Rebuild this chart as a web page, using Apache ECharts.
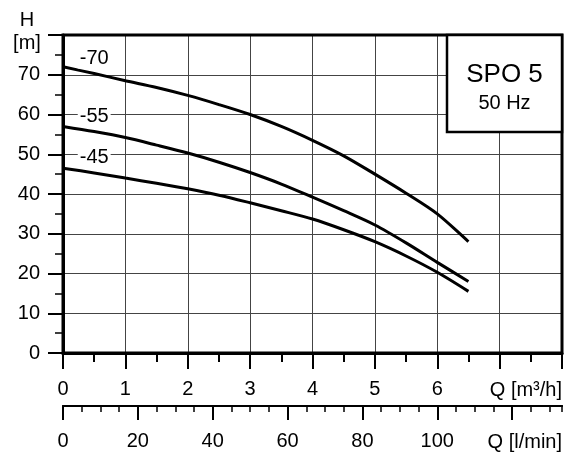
<!DOCTYPE html>
<html>
<head>
<meta charset="utf-8">
<script src="https://cdn.jsdelivr.net/npm/echarts@6/dist/echarts.min.js"></script>
<style>html,body{margin:0;padding:0;background:#fff}#c{width:571px;height:455px}</style>
</head>
<body>
<div id="c"></div>
<script>
// Flow in m3/h
const flow = [0, 0.5, 1, 1.5, 2, 2.5, 3, 3.5, 4, 4.5, 5, 5.5, 6, 6.5];
// Head in m for each impeller variant
const h70 = [72, 70.3, 68.5, 66.8, 64.8, 62.5, 60, 57, 53.5, 49.6, 45, 40.2, 35, 28];
const h55 = [57, 55.7, 54.2, 52.3, 50.3, 48, 45.4, 42.5, 39.2, 35.8, 32.2, 27.7, 22.8, 18];
const h45 = [46.5, 45.3, 44, 42.7, 41.3, 39.7, 37.8, 35.8, 33.7, 31, 28, 24.4, 20.3, 15.5];
const seriesNames = ['-70', '-55', '-45'];
const seriesData = [h70, h55, h45];
// Tick labels
const qM3hLabels = [0, 1, 2, 3, 4, 5, 6];
const qLminMajor = [0, 20, 40, 60, 80, 100, 120];
const qLminLabels = [0, 20, 40, 60, 80, 100];
const hLabels = [0, 10, 20, 30, 40, 50, 60, 70];
const title = 'SPO 5';
const subtitle = '50 Hz';

const FONT = 'Liberation Sans, Arial, sans-serif';
const qMax = 8;
const lminMax = qMax * 1000 / 60;

const chart = echarts.init(document.getElementById('c'), null, {renderer: 'canvas'});

const series = [];
seriesData.forEach((vals, i) => {
  series.push({
    name: seriesNames[i],
    type: 'line',
    xAxisIndex: 0,
    yAxisIndex: 0,
    smooth: 0.3,
    symbol: 'none',
    lineStyle: {color: '#000', width: 3},
    data: flow.map((q, j) => [q, vals[j]]),
    emphasis: {disabled: true},
    z: 3
  });
  series.push({
    name: seriesNames[i] + ' label',
    type: 'scatter',
    xAxisIndex: 0,
    yAxisIndex: 0,
    symbol: 'circle',
    symbolSize: 0,
    itemStyle: {color: '#000', opacity: 1},
    data: [[flow[1], vals[1]]],
    label: {
      show: true,
      position: 'top',
      distance: 5,
      formatter: () => seriesNames[i],
      fontFamily: FONT, fontSize: 20, color: '#000', opacity: 1,
      backgroundColor: '#fff', lineHeight: 20, padding: [0, 2]
    },
    emphasis: {disabled: true},
    silent: true,
    z: 5
  });
});

const option = {
  animation: false,
  backgroundColor: '#fff',
  grid: {left: 63, right: 9, top: 35, bottom: 102, show: true, borderColor: '#000', borderWidth: 3, backgroundColor: 'transparent', z: 4},
  xAxis: [
    {
      type: 'value', min: 0, max: qMax, interval: 1, position: 'bottom',
      axisLine: {show: true, onZero: false, lineStyle: {color: '#000', width: 3}},
      axisTick: {show: true, inside: false, length: 16, lineStyle: {color: '#000', width: 2}},
      minorTick: {show: true, splitNumber: 2, length: 9, lineStyle: {color: '#000', width: 2}},
      splitLine: {show: true, lineStyle: {color: '#444', width: 1}},
      axisLabel: {
        margin: 26, fontFamily: FONT, fontSize: 20, color: '#000',
        formatter: v => qM3hLabels.indexOf(v) >= 0 ? String(v) : ''
      }
    },
    {
      type: 'value', min: 0, max: lminMax, interval: 5, position: 'bottom', offset: 53,
      axisLine: {show: true, onZero: false, lineStyle: {color: '#000', width: 2}},
      axisTick: {show: true, inside: false, length: 6, lineStyle: {color: '#000', width: 1.5}},
      splitLine: {show: false},
      axisLabel: {margin: 25, fontFamily: FONT, fontSize: 20, color: '#000', customValues: qLminLabels}
    },
    {
      type: 'value', min: 0, max: lminMax, position: 'bottom', offset: 53,
      axisLine: {show: true, onZero: false, lineStyle: {color: '#000', width: 2}},
      axisTick: {show: true, inside: false, length: 14, customValues: qLminMajor, lineStyle: {color: '#000', width: 2}},
      splitLine: {show: false},
      axisLabel: {show: false}
    }
  ],
  yAxis: [{
    type: 'value', min: 0, max: 80, interval: 10,
    axisLine: {show: true, onZero: false, lineStyle: {color: '#000', width: 3}},
    axisTick: {show: true, inside: false, length: 15, lineStyle: {color: '#000', width: 2}},
    minorTick: {show: true, splitNumber: 2, length: 8, lineStyle: {color: '#000', width: 1.5}},
    splitLine: {show: true, lineStyle: {color: '#444', width: 1}},
    axisLabel: {
      margin: 23, fontFamily: FONT, fontSize: 20, color: '#000',
      formatter: v => hLabels.indexOf(v) >= 0 ? String(v) : ''
    }
  }],
  series: series,
  graphic: [
    {type: 'rect', shape: {x: 447, y: 35, width: 115, height: 97}, style: {fill: '#fff', stroke: '#000', lineWidth: 2.5}, z: 100},
    {type: 'text', x: 504.5, y: 75, style: {text: title, font: '26px ' + FONT, fill: '#000', align: 'center', verticalAlign: 'middle'}, z: 101},
    {type: 'text', x: 504.5, y: 103, style: {text: subtitle, font: '20px ' + FONT, fill: '#000', align: 'center', verticalAlign: 'middle'}, z: 101},
    {type: 'text', x: 27, y: 20, style: {text: 'H', font: '20px ' + FONT, fill: '#000', align: 'center', verticalAlign: 'middle'}, z: 101},
    {type: 'text', x: 27, y: 43, style: {text: '[m]', font: '20px ' + FONT, fill: '#000', align: 'center', verticalAlign: 'middle'}, z: 101},
    {type: 'text', x: 562, y: 390, style: {text: 'Q [m³/h]', font: '20px ' + FONT, fill: '#000', align: 'right', verticalAlign: 'middle'}, z: 101},
    {type: 'text', x: 562, y: 442, style: {text: 'Q [l/min]', font: '20px ' + FONT, fill: '#000', align: 'right', verticalAlign: 'middle'}, z: 101}
  ]
};
chart.setOption(option);
</script>
</body>
</html>
